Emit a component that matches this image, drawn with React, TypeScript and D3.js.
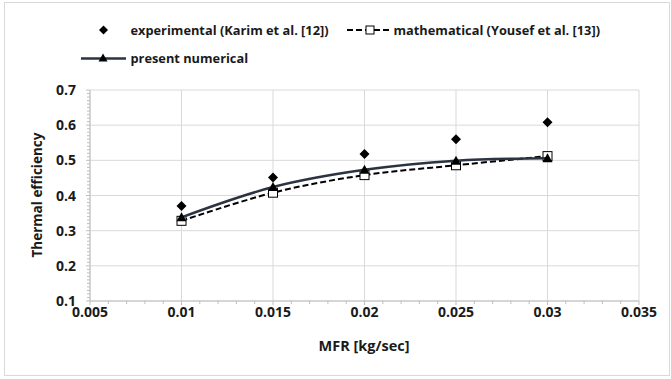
import React from "react";
import * as d3 from "d3";

const mfr = [0.01, 0.015, 0.02, 0.025, 0.03];
const experimental = [0.37, 0.451, 0.518, 0.56, 0.608];
const mathematical = [0.328, 0.408, 0.458, 0.486, 0.512];
const numerical = [0.338, 0.424, 0.473, 0.499, 0.506];
const xTicks = [0.005, 0.01, 0.015, 0.02, 0.025, 0.03, 0.035];
const yTicks = [0.1, 0.2, 0.3, 0.4, 0.5, 0.6, 0.7];
const labels = {
  experimental: "experimental (Karim et al. [12])",
  mathematical: "mathematical (Yousef et al. [13])",
  numerical: "present numerical",
  xTitle: "MFR [kg/sec]",
  yTitle: "Thermal efficiency",
};

const W = 671;
const H = 379;
const FONT = "'Open Sans', 'Noto Sans', sans-serif";

export default function App() {
  const x = d3.scaleLinear().domain([0.005, 0.035]).range([90, 639]);
  const y = d3.scaleLinear().domain([0.1, 0.7]).range([301, 90]);
  const xMinor = d3.range(0.005, 0.0351, 0.001);
  const yMinor = d3.range(0.1, 0.7001, 0.01);

  const line = d3
    .line<[number, number]>()
    .x((d) => x(d[0]))
    .y((d) => y(d[1]))
    .curve(d3.curveCatmullRom.alpha(0.5));

  const mathPts = mfr.map((m, i) => [m, mathematical[i]] as [number, number]);
  const numPts = mfr.map((m, i) => [m, numerical[i]] as [number, number]);

  const diamond = (cx: number, cy: number, r: number) =>
    `M${cx},${cy - r}L${cx + r},${cy}L${cx},${cy + r}L${cx - r},${cy}Z`;
  const tri = (cx: number, cy: number, r: number) =>
    `M${cx},${cy - r}L${cx + r},${cy + r * 0.8}L${cx - r},${cy + r * 0.8}Z`;

  const lineColor = "#2b3441";
  const textColor = "#1a1a1a";

  return (
    <svg width={W} height={H} style={{ position: "absolute", left: 0, top: 0 }}>
      <rect x={0} y={0} width={W} height={H} fill="#fff" />
      <rect x={4.5} y={2.5} width={665} height={373} fill="#fff" stroke="#d9d9d9" strokeWidth={1} />
      {/* gridlines */}
      {yTicks.map((t) => (
        <line key={"gy" + t} x1={x(0.005)} x2={x(0.035)} y1={y(t)} y2={y(t)} stroke="#d9d9d9" strokeWidth={1} />
      ))}
      {xTicks.map((t) => (
        <line key={"gx" + t} x1={x(t)} x2={x(t)} y1={y(0.1)} y2={y(0.7)} stroke="#d9d9d9" strokeWidth={1} />
      ))}
      {/* axes */}
      <line x1={x(0.005)} x2={x(0.035)} y1={y(0.1)} y2={y(0.1)} stroke="#bfbfbf" strokeWidth={1} />
      <line x1={x(0.005)} x2={x(0.005)} y1={y(0.1)} y2={y(0.7)} stroke="#bfbfbf" strokeWidth={1} />
      {xMinor.map((t, i) => (
        <line key={"mx" + i} x1={x(t)} x2={x(t)} y1={y(0.1)} y2={y(0.1) + (i % 5 === 0 ? 4 : 3)} stroke="#bfbfbf" />
      ))}
      {yMinor.map((t, i) => (
        <line key={"my" + i} x1={x(0.005) - (i % 10 === 0 ? 4 : 3)} x2={x(0.005)} y1={y(t)} y2={y(t)} stroke="#bfbfbf" />
      ))}
      {/* tick labels */}
      {xTicks.map((t) => (
        <text key={"tx" + t} x={x(t)} y={317} textAnchor="middle" fontFamily={FONT} fontWeight="bold" fontSize={14} fill={textColor}>
          {String(+t.toFixed(3))}
        </text>
      ))}
      {yTicks.map((t) => (
        <text key={"ty" + t} x={76} y={y(t) + 5} textAnchor="end" fontFamily={FONT} fontWeight="bold" fontSize={14} fill={textColor}>
          {t.toFixed(1)}
        </text>
      ))}
      <text x={364} y={351} textAnchor="middle" fontFamily={FONT} fontWeight="bold" fontSize={14.5} fill={textColor}>
        {labels.xTitle}
      </text>
      <text transform={`translate(42,195) rotate(-90)`} textAnchor="middle" fontFamily={FONT} fontWeight="bold" fontSize={13.5} fill={textColor}>
        {labels.yTitle}
      </text>
      {/* experimental */}
      {mfr.map((m, i) => (
        <path key={"e" + i} d={diamond(x(m), y(experimental[i]), 5)} fill="#000" />
      ))}
      {/* mathematical */}
      <path d={line(mathPts) || ""} fill="none" stroke="#000" strokeWidth={2} strokeDasharray="6,3" />
      {mathPts.map((p, i) => (
        <rect key={"m" + i} x={x(p[0]) - 4.5} y={y(p[1]) - 4.5} width={9} height={9} fill="#fff" stroke="#000" strokeWidth={1} />
      ))}
      {/* numerical */}
      <path d={line(numPts) || ""} fill="none" stroke={lineColor} strokeWidth={2.5} />
      {numPts.map((p, i) => (
        <path key={"n" + i} d={tri(x(p[0]), y(p[1]), 5)} fill="#000" />
      ))}
      {/* legend */}
      <path d={diamond(103.5, 30, 4.5)} fill="#000" />
      <text x={130.5} y={34.5} fontFamily={FONT} fontWeight="bold" fontSize={12.8} fill={textColor}>
        {labels.experimental}
      </text>
      <line x1={347} x2={390} y1={30} y2={30} stroke="#000" strokeWidth={2} strokeDasharray="6,3" />
      <rect x={366} y={26} width={8} height={8} fill="#fff" stroke="#000" strokeWidth={1} />
      <text x={393.5} y={34.5} fontFamily={FONT} fontWeight="bold" fontSize={12.8} fill={textColor}>
        {labels.mathematical}
      </text>
      <line x1={81} x2={126} y1={58.5} y2={58.5} stroke={lineColor} strokeWidth={2.5} />
      <path d={tri(103, 58, 4.5)} fill="#000" />
      <text x={130.5} y={63} fontFamily={FONT} fontWeight="bold" fontSize={12.8} fill={textColor}>
        {labels.numerical}
      </text>
    </svg>
  );
}
